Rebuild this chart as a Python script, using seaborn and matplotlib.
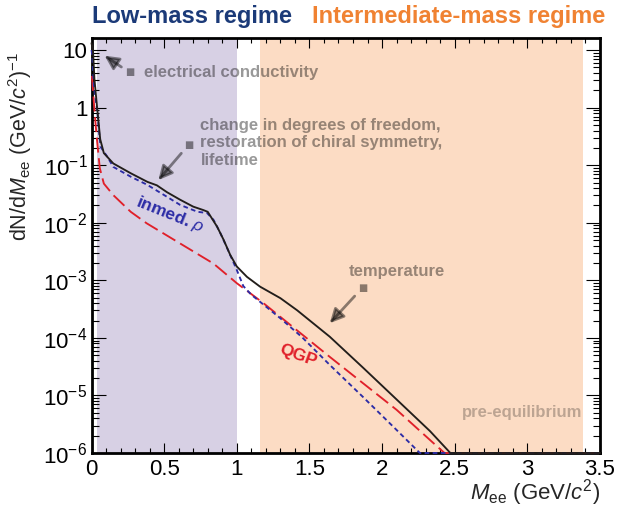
import matplotlib
matplotlib.use("Agg")
import matplotlib.pyplot as plt
import numpy as np
import seaborn as sns
from matplotlib.ticker import FixedLocator, LogLocator, MultipleLocator, NullFormatter

# dielectron mass (GeV/c^2) and log10(dN/dM_ee)
total_mass = [0.0, 0.01, 0.02, 0.04, 0.06, 0.085, 0.15, 0.27, 0.385, 0.45, 0.52, 0.61, 0.70, 0.77,
              0.80, 0.865, 0.91, 0.955, 1.0, 1.07, 1.16, 1.30, 1.415, 1.64, 1.87, 2.10, 2.33, 2.47,
              3.5]
total_log10 = [1.12, 1.0, 0.5, -0.04, -0.55, -0.79, -0.97, -1.14, -1.29, -1.35, -1.47, -1.60, -1.72,
               -1.78, -1.81, -2.07, -2.30, -2.56, -2.76, -2.94, -3.11, -3.31, -3.52, -3.98, -4.52,
               -5.07, -5.62, -6.0, -6.0]

rho_mass = [0.0, 0.005, 0.016, 0.04, 0.05, 0.062, 0.108, 0.15, 0.27, 0.383, 0.52, 0.61, 0.73, 0.795,
            0.84, 0.887, 0.93, 1.0, 1.045, 1.10, 1.30, 1.45, 1.64, 1.87, 2.10, 2.26, 3.5]
rho_log10 = [1.0, 0.91, 0.39, -0.07, -0.36, -0.68, -0.85, -1.03, -1.20, -1.34, -1.55, -1.69, -1.81,
             -1.83, -1.95, -2.18, -2.42, -2.82, -3.10, -3.25, -3.66, -3.99, -4.47, -5.03, -5.60,
             -6.0, -6.0]

qgp_mass = [0.003, 0.016, 0.027, 0.04, 0.057, 0.085, 0.15, 0.27, 0.38, 0.61, 0.84, 1.0, 1.18, 1.415,
            1.64, 1.87, 2.10, 2.35, 2.43, 3.5]
qgp_log10 = [0.55, 0.10, -0.25, -0.62, -1.05, -1.32, -1.52, -1.81, -2.01, -2.36, -2.71, -3.05, -3.39,
             -3.87, -4.33, -4.79, -5.25, -5.82, -6.0, -6.0]

low_mass_range = [0.035, 1.004]
intermediate_range = [1.16, 3.38]

ytick_values = [1e-6, 1e-5, 1e-4, 1e-3, 1e-2, 1e-1, 1, 10]
ytick_labels = ["$10^{-6}$", "$10^{-5}$", "$10^{-4}$", "$10^{-3}$", "$10^{-2}$", "$10^{-1}$", "1", "10"]
xtick_values = [0, 0.5, 1, 1.5, 2, 2.5, 3, 3.5]
xtick_labels = ["0", "0.5", "1", "1.5", "2", "2.5", "3", "3.5"]

PURPLE = "#d7d0e4"
ORANGE = "#fcdcc4"
BLACK = "#221e1b"
BLUE = "#2c2ca6"
RED = "#e0202a"

sns.set_style("ticks")
plt.rcParams["font.family"] = ["Liberation Sans", "DejaVu Sans"]
plt.rcParams["mathtext.fontset"] = "custom"
plt.rcParams["mathtext.rm"] = "Liberation Sans"
plt.rcParams["mathtext.it"] = "Liberation Sans:italic"
plt.rcParams["mathtext.bf"] = "Liberation Sans:bold"

fig = plt.figure(figsize=(6.18, 5.12), dpi=100)
ax = fig.add_axes([91.5 / 618, 1 - 453 / 512, (600 - 91.5) / 618, (453 - 38) / 512])
ax.set_yscale("log")
ax.set_xlim(0, 3.5)
ax.set_ylim(1e-6, 16.2)

ax.axvspan(*low_mass_range, color=PURPLE, lw=0, zorder=0)
ax.axvspan(*intermediate_range, color=ORANGE, lw=0, zorder=0)

series = [
    (qgp_mass, qgp_log10, RED, (0, (8, 3))),
    (rho_mass, rho_log10, BLUE, (0, (2.5, 1.8))),
    (total_mass, total_log10, BLACK, "-"),
]
for mass, logv, color, style in series:
    sns.lineplot(x=mass, y=10 ** np.array(logv), ax=ax, color=color, lw=1.35, linestyle=style,
                 sort=False, estimator=None, clip_on=False, zorder=4)

# ticks, ROOT style
ax.xaxis.set_major_locator(FixedLocator(xtick_values))
ax.set_xticklabels(xtick_labels)
ax.xaxis.set_minor_locator(MultipleLocator(0.1))
ax.yaxis.set_major_locator(FixedLocator(ytick_values))
ax.set_yticklabels(ytick_labels)
ax.yaxis.set_minor_locator(LogLocator(base=10, subs=np.arange(2, 10), numticks=20))
ax.yaxis.set_minor_formatter(NullFormatter())
ax.tick_params(axis="both", which="both", direction="in", top=True, right=True,
               labelsize=16, colors="black", width=0.8)
ax.tick_params(axis="x", which="major", length=7, pad=4)
ax.tick_params(axis="x", which="minor", length=3.5)
ax.tick_params(axis="y", which="major", length=10, pad=3)
ax.tick_params(axis="y", which="minor", length=5)
for spine in ax.spines.values():
    spine.set_linewidth(2)
    spine.set_color("black")
    spine.set_zorder(3)

fig.text(20 / 618, 1 - 146 / 512, r"dN/d$\mathit{M}_{\rm ee}$ (GeV/$\mathit{c}^{2}$)$^{-1}$",
         rotation=90, ha="center", va="center", fontsize=15.5)
fig.text(600 / 618, 1 - 493 / 512, r"$\mathit{M}_{\rm ee}$ (GeV/$\mathit{c}^{2}$)",
         ha="right", va="center", fontsize=16)

fig.text(92 / 618, 1 - 17 / 512, "Low-mass regime", color="#1b3a78", fontsize=17,
         fontweight="bold", ha="left", va="center")
fig.text(312 / 618, 1 - 17 / 512, "Intermediate-mass regime", color="#f08232", fontsize=17,
         fontweight="bold", ha="left", va="center")

# annotations
note_kw = dict(color="black", alpha=0.4, fontsize=12, fontweight="bold")
ax.text(0.36, 4.0, "electrical conductivity", ha="left", va="center", **note_kw)
ax.text(0.75, 0.243, "change in degrees of freedom,\nrestoration of chiral symmetry,\nlifetime",
        ha="left", va="center", linespacing=1.2, **note_kw)
ax.text(1.77, 1.4e-3, "temperature", ha="left", va="center", **note_kw)
ax.text(2.55, 5e-6, "pre-equilibrium", ha="left", va="center", color="black", alpha=0.25,
        fontsize=12, fontweight="bold")

arrows = [((0.09, 8.0), (0.26, 4.1)), ((0.46, 0.055), (0.667, 0.224)), ((1.64, 1.8e-4), (1.864, 7.4e-4))]
for head, tail in arrows:
    ax.annotate("■", xy=head, xytext=tail, ha="center", va="center", fontsize=7,
                family="DejaVu Sans", color="black", alpha=0.45,
                arrowprops=dict(arrowstyle="-|>,head_length=0.6,head_width=0.3", color="black",
                                alpha=0.45, lw=2, shrinkA=0, shrinkB=0, mutation_scale=14))

ax.text(0.543, 0.0136, r"inmed. $\rho$", color=BLUE, fontsize=12.5, fontweight="bold",
        rotation=-22, ha="center", va="center")
ax.text(1.424, 5e-5, "QGP", color=RED, fontsize=12.5, fontweight="bold", rotation=-20,
        ha="center", va="center")

fig.savefig("out.png", dpi=100)
